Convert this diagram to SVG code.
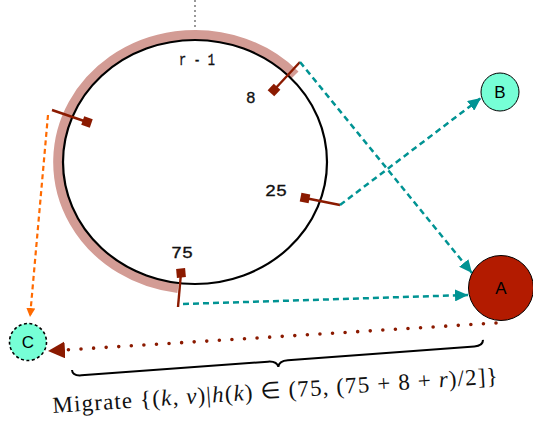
<svg xmlns="http://www.w3.org/2000/svg" width="533" height="423" viewBox="0 0 533 423">
<style>
.tick{stroke:#8b1a00;stroke-width:2.4;fill:none}
.sq{fill:#8b1a00}
.lbl{font-family:"Liberation Mono",monospace;font-size:16px;fill:#111;stroke:#111;stroke-width:0.35}
.teal{stroke:#009393;stroke-width:2.5;stroke-dasharray:6 4;fill:none}
.node{stroke:#000;stroke-width:1}
.nl{font-family:"Liberation Sans",Arial,sans-serif;font-size:17px;text-anchor:middle;fill:#000}
.m{font-family:"Liberation Serif","Times New Roman",serif;font-size:23px;fill:#111}
.i{font-style:italic}
</style>
<defs>
<marker id="ta" markerUnits="userSpaceOnUse" markerWidth="14" markerHeight="12" refX="13" refY="6" orient="auto">
<path d="M0,0 L13,6 L0,12 Z" fill="#009393"/>
</marker>
<marker id="oa" markerUnits="userSpaceOnUse" markerWidth="10" markerHeight="10" refX="9" refY="4.5" orient="auto">
<path d="M0,0 L9,4.5 L0,9 Z" fill="#ff6a00"/>
</marker>
<marker id="ra" markerUnits="userSpaceOnUse" markerWidth="18" markerHeight="18" refX="17" refY="8.5" orient="auto">
<path d="M0,0 L17,8.5 L0,17 Z" fill="#8b1a00"/>
</marker>
</defs>

<g id="ring">
<line x1="195" y1="1" x2="195" y2="40" stroke="#777" stroke-width="2" stroke-dasharray="0 5" stroke-linecap="round"/>
<path d="M295,75 A137 127 0 1 0 178,288" stroke="#d39c95" stroke-width="10" fill="none"/>
<ellipse cx="195" cy="162" rx="132" ry="122" fill="none" stroke="#000" stroke-width="2.2"/>
<text class="lbl" x="179" y="65" textLength="36" lengthAdjust="spacingAndGlyphs">r - 1</text>
</g>

<g id="tok8">
<line class="tick" x1="300" y1="62" x2="274" y2="90"/>
<rect class="sq" x="-4.5" y="-4.5" width="9" height="9" transform="translate(274,90) rotate(-47)"/>
<text class="lbl" x="246" y="103">8</text>
</g>
<g id="tokL">
<line class="tick" x1="52" y1="110" x2="87" y2="122"/>
<rect class="sq" x="-4.5" y="-4.5" width="9" height="9" transform="translate(87,122) rotate(19)"/>
</g>
<g id="tok25">
<line class="tick" x1="340" y1="205" x2="305" y2="198"/>
<rect class="sq" x="-4.5" y="-4.5" width="9" height="9" transform="translate(305,198) rotate(11)"/>
<text class="lbl" x="265" y="196" textLength="22" lengthAdjust="spacingAndGlyphs">25</text>
</g>
<g id="tok75">
<line class="tick" x1="178" y1="307" x2="181" y2="273"/>
<rect class="sq" x="-4.5" y="-4.5" width="9" height="9" transform="translate(181,273) rotate(-5)"/>
<text class="lbl" x="171" y="258" textLength="22" lengthAdjust="spacingAndGlyphs">75</text>
</g>

<g id="connectors">
<line class="teal" x1="300" y1="62" x2="472" y2="273" marker-end="url(#ta)"/>
<line class="teal" x1="340" y1="205" x2="481" y2="98" marker-end="url(#ta)"/>
<line class="teal" x1="183" y1="304" x2="468" y2="295" marker-end="url(#ta)"/>
<line x1="48" y1="115" x2="30" y2="317" stroke="#ff6a00" stroke-width="2.2" stroke-dasharray="5 3.5" marker-end="url(#oa)"/>
<line x1="496" y1="323" x2="48" y2="351" stroke="#8b1a00" stroke-width="3.6" stroke-linecap="round" stroke-dasharray="0 12.6" marker-end="url(#ra)"/>
</g>

<g id="B">
<circle class="node" cx="500" cy="92" r="19" fill="#76ffd6"/>
<text class="nl" x="500" y="98">B</text>
</g>
<g id="A">
<circle class="node" cx="501" cy="288" r="32.5" fill="#b31b00"/>
<text class="nl" x="501" y="294">A</text>
</g>
<g id="C">
<circle cx="28" cy="342" r="18.5" fill="#76ffd6" stroke="#000" stroke-width="1.6" stroke-dasharray="3 2.5"/>
<text class="nl" x="28" y="348">C</text>
</g>

<g id="brace" transform="translate(72,370) rotate(-4.2)">
<path d="M0,0 Q0,6 9,6 L196,6 Q205,6 206,12 Q207,6 216,6 L403,6 Q412,6 412,0" fill="none" stroke="#000" stroke-width="2"/>
</g>
<g id="label" transform="translate(53,413) rotate(-3.8)">
<text class="m" x="0" y="0" textLength="446" lengthAdjust="spacing">Migrate {(<tspan class="i">k</tspan>, <tspan class="i">v</tspan>)|<tspan class="i">h</tspan>(<tspan class="i">k</tspan>) ∈ (75, (75 + 8 + <tspan class="i">r</tspan>)/2]}</text>
</g>
</svg>
